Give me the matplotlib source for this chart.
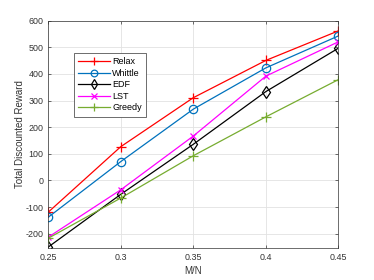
import matplotlib
matplotlib.use("Agg")
import matplotlib.pyplot as plt

# data
ratio = [0.25, 0.3, 0.35, 0.4, 0.45]
relax = [-119, 127, 311, 451, 562]
whittle = [-138, 71, 268, 423, 543]
edf = [-250, -52, 136, 334, 497]
lst = [-213, -35, 167, 392, 521]
greedy = [-217, -66, 93, 239, 379]

x_ticks = [0.25, 0.3, 0.35, 0.4, 0.45]
x_labels = ["0.25", "0.3", "0.35", "0.4", "0.45"]
y_ticks = [-200, -100, 0, 100, 200, 300, 400, 500, 600]

plt.rcParams["font.family"] = ["Liberation Sans", "DejaVu Sans"]
plt.rcParams["font.size"] = 6.4
plt.rcParams["axes.unicode_minus"] = False

fig = plt.figure(figsize=(3.74, 2.8), dpi=100)
ax = fig.add_axes([0.129, 0.113, 0.776, 0.813])

ax.plot(ratio, relax, "-+", color="#ff0000", lw=0.9, ms=7, mew=0.9, label="Relax")
ax.plot(ratio, whittle, "-o", color="#0072bd", lw=0.9, ms=6, mew=0.9,
        mfc="none", label="Whittle")
ax.plot(ratio, edf, "-d", color="black", lw=0.9, ms=6, mew=0.9,
        mfc="none", label="EDF")
ax.plot(ratio, lst, "-x", color="#ff00ff", lw=0.9, ms=5, mew=0.9, label="LST")
ax.plot(ratio, greedy, "-+", color="#77ac30", lw=0.9, ms=7, mew=0.9, label="Greedy")

ax.set_xlim(0.25, 0.45)
ax.set_ylim(-255, 600)
ax.set_xticks(x_ticks)
ax.set_xticklabels(x_labels)
ax.set_yticks(y_ticks)
ax.set_xlabel("M/N", color="#333333", fontsize=7, labelpad=2.5)
ax.set_ylabel("Total Discounted Reward", color="#333333", fontsize=7, labelpad=0)
ax.tick_params(direction="in", length=2.5, width=0.5, colors="#333333",
               top=True, right=True, pad=3.5)
ax.grid(True, color="#e2e2e2", lw=0.6)
ax.set_axisbelow(True)
for s in ax.spines.values():
    s.set_color("#333333")
    s.set_linewidth(0.5)

leg = ax.legend(loc="upper left", bbox_to_anchor=(0.0886, 0.857), borderaxespad=0,
                fancybox=False, edgecolor="#333333", framealpha=1, fontsize=6.5,
                handlelength=3.5, borderpad=0.45, labelspacing=0.28,
                handletextpad=0.3, markerscale=0.8)
leg.get_frame().set_linewidth(0.5)

fig.savefig("out.png", dpi=100)
